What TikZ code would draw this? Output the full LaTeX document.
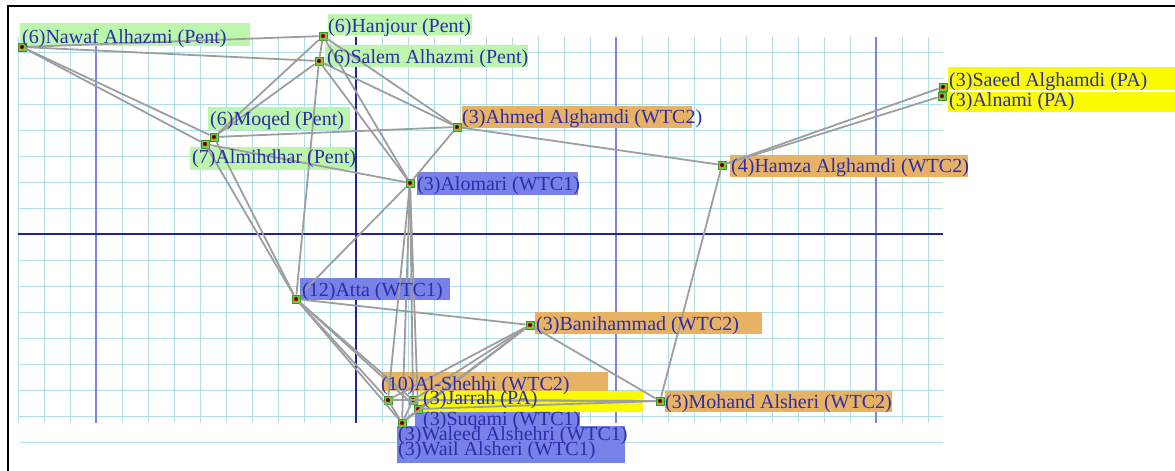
\documentclass[tikz,border=0pt]{standalone}
\usepackage{fontspec}
\setmainfont{Liberation Serif}
\definecolor{txt}{RGB}{45,45,170}
\definecolor{gmin}{RGB}{178,222,230}
\definecolor{gmaj}{RGB}{130,130,225}
\definecolor{gaxis}{RGB}{35,35,150}
\definecolor{bgreen}{RGB}{188,245,172}
\definecolor{borange}{RGB}{232,178,100}
\definecolor{bblue}{RGB}{118,130,232}
\definecolor{byellow}{RGB}{250,250,0}
\definecolor{edgec}{RGB}{158,158,158}
\definecolor{mkfill}{RGB}{120,200,60}
\definecolor{mkdraw}{RGB}{60,150,40}
\tikzset{
  lbl/.style={anchor=base west, inner sep=0pt, text=txt, font=\fontsize{20}{20}\selectfont},
  mk/.style={rectangle, minimum size=8pt, inner sep=0pt, fill=mkfill, draw=mkdraw, line width=0.8pt,
    path picture={\fill[red!70!black] (path picture bounding box.center) circle (2.2pt);
                  \fill[black] (path picture bounding box.center) circle (1.2pt);}},
  ed/.style={draw=edgec, line width=1.8pt},
  gridmin/.style={draw=gmin, line width=1pt},
  gridmaj/.style={draw=gmaj, line width=1.3pt},
  gridaxis/.style={draw=gaxis, line width=1.5pt},
}
\begin{document}
\begin{tikzpicture}[x=1pt,y=-1pt]
\useasboundingbox (0,0) rectangle (1175,471);
\fill[white] (0,0) rectangle (1175,471);
% grid
\foreach \k in {0,...,35} \draw[gridmin] ({18+26*\k},37) -- ({18+26*\k},423);
\foreach \k in {1,...,15} \draw[gridmin] (18,{26+26*\k}) -- (943,{26+26*\k});
\draw[gridmin] (20,442) -- (943,442);
\foreach \x in {96,616,876} \draw[gridmaj] (\x,37) -- (\x,423);
\draw[gridaxis] (356,37) -- (356,423);
\draw[gridaxis] (18,234) -- (943,234);
% frame
\draw[black, line width=2pt] (8,471) -- (8,6) -- (1175,6);
% label boxes
\fill[bgreen] (20,23) rectangle (250,46);
\fill[bgreen] (328,14) rectangle (472,35);
\fill[bgreen] (325,45) rectangle (528,67);
\fill[bgreen] (208,107) rectangle (350,130);
\fill[bgreen] (190,147) rectangle (355,170);
\fill[borange] (462,106) rectangle (692,128);
\fill[bblue] (417,172) rectangle (578,195);
\fill[borange] (730,155) rectangle (968,177);
\fill[byellow] (948,67) rectangle (1175,90);
\fill[byellow] (948,92) rectangle (1175,112);
\fill[bblue] (300,278) rectangle (450,300);
\fill[borange] (535,312) rectangle (762,334);
\fill[borange] (665,391) rectangle (892,412);
\fill[borange] (382,372) rectangle (608,391);
\fill[byellow] (420,391) rectangle (643,412);
\fill[bblue] (415,412) rectangle (580,427);
\fill[bblue] (397,426) rectangle (625,463);
% markers
\node[mk] (NA) at (22,47) {};
\node[mk] (HJ) at (323,36) {};
\node[mk] (SA) at (319,61) {};
\node[mk] (MQ) at (214,137) {};
\node[mk] (MH) at (205,144) {};
\node[mk] (AG) at (457,127) {};
\node[mk] (AO) at (410,183) {};
\node[mk] (HA) at (722,165) {};
\node[mk] (SG) at (943,87) {};
\node[mk] (AN) at (942,96) {};
\node[mk] (AT) at (296,299) {};
\node[mk] (BH) at (530,325) {};
\node[mk] (MS) at (660,401) {};
\node[mk] (SH) at (388,400) {};
\node[mk] (JR) at (413,400) {};
\node[mk] (SQ) at (418,409) {};
\node[mk] (WA) at (402,423) {};
% edges
\foreach \a/\b in {NA/HJ, NA/SA, NA/MQ, NA/MH, HJ/SA, HJ/MQ, SA/MQ, HJ/AG, SA/AG, HJ/AO, SA/AO, SA/AT,
  MQ/AG, MH/AO, MQ/AT, MH/AT, MQ/MH, AG/AO, AG/HA, HA/SG, HA/AN, HA/MS, AO/AT, AO/SH, AO/JR, AO/SQ, AO/WA,
  AT/BH, AT/SH, AT/JR, AT/SQ, AT/WA, BH/MS, BH/SH, BH/JR, BH/SQ, BH/WA, MS/SH, MS/JR, MS/SQ,
  SH/JR, SH/WA, JR/WA, SQ/WA, JR/SQ}
  \draw[ed] (\a) -- (\b);
% labels
\node[lbl] (tNA) at (22,43) {(6)Nawaf Alhazmi (Pent)};
\node[lbl] (tHJ) at (328,32) {(6)Hanjour (Pent)};
\node[lbl] (tSA) at (327,63) {(6)Salem Alhazmi (Pent)};
\node[lbl] (tMQ) at (210,125) {(6)Moqed (Pent)};
\node[lbl] (tMH) at (192,163) {(7)Almihdhar (Pent)};
\node[lbl] (tAG) at (462,123) {(3)Ahmed Alghamdi (WTC2)};
\node[lbl] (tAO) at (417,190) {(3)Alomari (WTC1)};
\node[lbl] (tHA) at (731,172) {(4)Hamza Alghamdi (WTC2)};
\node[lbl] (tSG) at (949,86) {(3)Saeed Alghamdi (PA)};
\node[lbl] (tAN) at (949,106) {(3)Alnami (PA)};
\node[lbl] (tAT) at (302,296) {(12)Atta (WTC1)};
\node[lbl] (tBH) at (536,330) {(3)Banihammad (WTC2)};
\node[lbl] (tMS) at (665,408) {(3)Mohand Alsheri (WTC2)};
\node[lbl] (tSH) at (381,390) {(10)Al-Shehhi (WTC2)};
\node[lbl] (tJR) at (423,404) {(3)Jarrah (PA)};
\node[lbl] (tSQ) at (423,425) {(3)Suqami (WTC1)};
\node[lbl] (tWA) at (398,440) {(3)Waleed Alshehri (WTC1)};
\node[lbl] (tWL) at (398,455) {(3)Wail Alsheri (WTC1)};
\end{tikzpicture}
\end{document}
